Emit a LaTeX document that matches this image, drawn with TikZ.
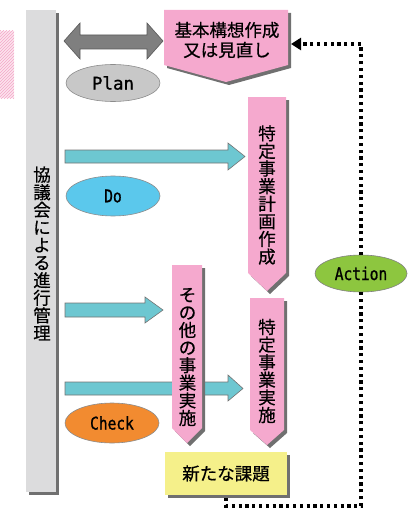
\documentclass[tikz,border=0pt]{standalone}
\usepackage{fontspec}
\usetikzlibrary{shapes.geometric,shadows,arrows.meta,patterns}
\newfontfamily\jp[FakeBold=0.6]{Noto Sans CJK JP}
\newfontfamily\en[FakeStretch=0.83,FakeBold=1]{DejaVu Sans Mono}
\newfontfamily\enw[FakeBold=1]{DejaVu Sans Mono}
\definecolor{pinkfill}{HTML}{F5A9CE}
\definecolor{barfill}{HTML}{DCDCDD}
\definecolor{cyanfill}{HTML}{6DC7D1}
\definecolor{darrow}{HTML}{7F7F7F}
\definecolor{planfill}{HTML}{C8C8C8}
\definecolor{dofill}{HTML}{5BC8EC}
\definecolor{checkfill}{HTML}{F28B30}
\definecolor{actfill}{HTML}{8DC63F}
\definecolor{yelfill}{HTML}{F5F08A}
\definecolor{shadowc}{HTML}{707070}
\definecolor{hatchpink}{HTML}{F4A6C8}
\begin{document}
\begin{tikzpicture}[x=1pt,y=-1pt,
  shd/.style={drop shadow={shadow xshift=3pt,shadow yshift=-3pt,fill=shadowc,opacity=1}},
  pinkshape/.style={fill=pinkfill,shd},
  vtext/.style={font=\jp\fontsize{17.5}{17.6}\selectfont,align=center,inner sep=0pt},
  htext/.style={font=\jp\fontsize{17.5}{20}\selectfont,align=center,inner sep=0pt},
  cyanarrow/.style={fill=cyanfill,draw=black!55,line width=0.6pt},
  oval/.style={ellipse,draw=black!45,line width=0.6pt,minimum width=94pt,minimum height=37pt,inner sep=0pt,font=\en\fontsize{17.5}{18}\selectfont},
  dotline/.style={line width=3.2pt,dash pattern=on 3.2pt off 3.6pt,black}
]
\useasboundingbox (0,0) rectangle (413,511);

% hatched square at left
\fill[hatchpink!30] (0,31) rectangle (14,98);
\fill[pattern=north east lines,pattern color=hatchpink] (0,31) rectangle (14,98);

% grey bar
\node[fill=barfill,shd,minimum width=30pt,minimum height=482pt,inner sep=0pt] (bar) at (41,251) {};
\node[vtext] (bartext) at (42,253.5) {協\\議\\会\\に\\よ\\る\\進\\行\\管\\理};

% double arrow
\filldraw[fill=darrow,draw=black!65,line width=0.6pt]
  (64,41) -- (80,23) -- (80,35) -- (147,35) -- (147,23) -- (163,41)
  -- (147,59) -- (147,49) -- (80,49) -- (80,59) -- cycle;

% Plan
\node[oval,fill=planfill,font=\enw\fontsize{17.5}{18}\selectfont] (plan) at (113,83) {Plan};

% box 1
\path[pinkshape] (164,10) -- (288,10) -- (288,65) -- (226,82) -- (164,65) -- cycle;
\node[htext] (b1) at (227,40) {基本構想作成\\又は見直し};

% arrow 1
\filldraw[cyanarrow] (65,150) -- (228,150) -- (228,143) -- (245,156.5) -- (228,170) -- (228,163) -- (65,163) -- cycle;

% Do
\node[oval,fill=dofill,minimum height=40pt] (do) at (113,196) {Do};

% box 2
\path[pinkshape] (248,97) -- (286,97) -- (286,273) -- (267,291) -- (248,273) -- cycle;
\node[vtext] (b2) at (267,195) {特\\定\\事\\業\\計\\画\\作\\成};

% arrow 2
\filldraw[cyanarrow] (65,303) -- (145,303) -- (145,297) -- (163,310) -- (145,323) -- (145,317) -- (65,317) -- cycle;

% arrow 3
\filldraw[cyanarrow] (65,382) -- (228,382) -- (228,375) -- (243,388.5) -- (228,401) -- (228,395) -- (65,395) -- cycle;

% box 3
\path[pinkshape] (172,265) -- (202,265) -- (202,428) -- (187,443) -- (172,428) -- cycle;
\node[vtext] (b3) at (187.5,357) {そ\\の\\他\\の\\事\\業\\実\\施};

% box 4
\path[pinkshape] (250,298) -- (284,298) -- (284,430) -- (267,445) -- (250,430) -- cycle;
\node[vtext] (b4) at (267,371) {特\\定\\事\\業\\実\\施};

% Check
\node[oval,fill=checkfill,minimum height=40pt] (check) at (112,423) {Check};

% new issues
\node[fill=yelfill,shd,minimum width=122pt,minimum height=43pt,inner sep=0pt,font=\jp\fontsize{17.5}{20}\selectfont] (kadai) at (226,473.5) {新たな課題};

% Action
\node[oval,fill=actfill,draw=black!50,minimum width=92pt] (act) at (361,273.5) {Action};

% dotted feedback
\coordinate (tipc) at (291,44);
\coordinate (botc) at (0,506);
\draw[dotline,-{Triangle[length=10pt,width=12pt]}] (act.north) |- (tipc);
\draw[dotline] ([yshift=-3pt]kadai.south) |- (act.south |- botc) -- (act.south);
\end{tikzpicture}
\end{document}
